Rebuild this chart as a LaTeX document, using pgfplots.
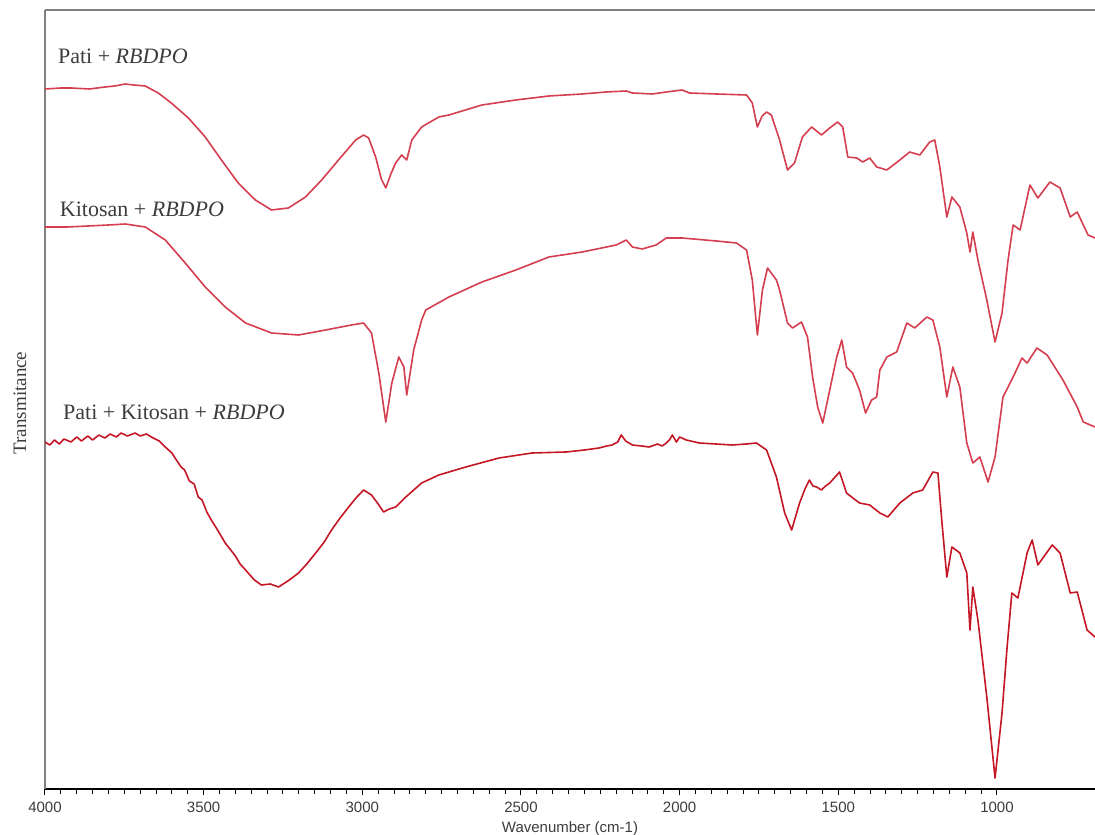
\documentclass[border=0pt]{standalone}
\usepackage{fontspec}
\setmainfont{Liberation Serif}
\newfontfamily\sansf{Liberation Sans}
\usepackage{pgfplots}
\pgfplotsset{compat=1.18}
\definecolor{redA}{RGB}{212,62,78}
\definecolor{redB}{RGB}{196,22,36}
\definecolor{txt}{RGB}{60,60,60}
\begin{document}
\begin{tikzpicture}
\begin{axis}[at={(0,0)}, anchor=south west, scale only axis,
  width=525pt, height=389.5pt,
  x dir=reverse, xmin=691, xmax=4000, ymin=45, ymax=824,
  axis x line*=bottom, axis y line*=left,
  xtick={1000,1500,...,4000}, minor tick num=9, tick align=outside, ytick=\empty,
  major tick length=3.2pt, minor tick length=2.6pt,
  every tick/.style={black, line width=0.5pt},
  x axis line style={black, line width=0.8pt},
  y axis line style={gray, line width=0.6pt},
  /pgf/number format/assume math mode=true,
  /pgf/number format/1000 sep={},
  xticklabel style={font=\sansf\fontsize{7.5}{8}\selectfont, text=txt},
  xlabel={Wavenumber (cm-1)},
  xlabel style={font=\sansf\fontsize{7.5}{8}\selectfont, text=txt, at={(axis description cs:0.5,0)}, anchor=center, yshift=-20pt},
  every axis plot/.append style={line join=round, line width=0.8pt},
]
% Pati + RBDPO
\addplot[redA] coordinates {
(4000,745)(3950,746)(3918,746)(3860,745)(3811,747)(3780,748)(3747,750)(3720,749)(3684,748)(3643,741)(3602,731)(3548,716)(3495,697)(3444,674)(3391,651)(3337,634)(3286,624)(3233,626)(3179,637)(3128,654)(3075,674)(3021,694)(2996,699)(2980,696)(2958,677)(2940,655)(2926,646)(2910,660)(2895,671)(2876,679)(2860,674)(2844,694)(2813,707)(2759,717)(2727,719)(2623,729)(2516,734)(2412,738)(2307,740)(2232,742)(2168,743)(2149,741)(2086,740)(2042,742)(1992,744)(1969,741)(1884,740)(1789,739)(1771,731)(1755,707)(1740,718)(1726,722)(1711,719)(1685,694)(1660,664)(1638,671)(1613,697)(1584,707)(1553,699)(1527,706)(1502,712)(1486,707)(1470,677)(1442,676)(1423,672)(1401,676)(1379,667)(1347,664)(1306,674)(1275,682)(1243,679)(1212,692)(1196,694)(1180,667)(1158,617)(1142,637)(1117,627)(1095,601)(1085,582)(1076,602)(1060,574)(1032,534)(1006,492)(984,521)(965,574)(949,609)(927,604)(896,649)(871,636)(833,652)(801,646)(769,617)(747,622)(713,599)(691,596)
};
% Kitosan + RBDPO
\addplot[redA] coordinates {
(4000,607)(3930,607)(3864,608)(3800,609)(3747,610)(3684,607)(3621,594)(3558,571)(3495,547)(3432,527)(3368,511)(3286,501)(3201,499)(3116,504)(3034,509)(2996,511)(2971,501)(2948,461)(2926,412)(2907,451)(2885,477)(2869,467)(2860,439)(2838,484)(2813,514)(2800,524)(2727,537)(2623,552)(2516,564)(2412,577)(2307,582)(2200,589)(2168,594)(2149,587)(2118,585)(2074,589)(2042,596)(1992,596)(1884,593)(1821,591)(1789,584)(1771,554)(1755,499)(1739,544)(1723,566)(1695,554)(1685,544)(1660,511)(1644,506)(1616,512)(1597,497)(1581,457)(1565,427)(1549,411)(1527,444)(1505,477)(1489,494)(1474,467)(1455,461)(1433,444)(1414,421)(1395,434)(1379,437)(1369,464)(1347,477)(1316,482)(1284,511)(1259,506)(1221,517)(1202,514)(1180,487)(1158,437)(1139,467)(1117,447)(1095,391)(1076,371)(1054,377)(1028,352)(1006,377)(981,437)(949,457)(921,476)(905,471)(874,486)(842,479)(792,454)(747,427)(728,412)(691,407)
};
% Pati + Kitosan + RBDPO
\addplot[redB] coordinates {
(4000,392)(3985,389)(3970,394)(3955,390)(3940,395)(3918,392)(3900,397)(3885,393)(3865,398)(3850,394)(3830,399)(3811,396)(3795,400)(3775,397)(3760,401)(3740,398)(3716,401)(3700,398)(3680,400)(3665,397)(3640,393)(3621,387)(3600,381)(3590,376)(3571,367)(3560,364)(3545,353)(3530,350)(3517,337)(3505,334)(3490,322)(3476,314)(3460,306)(3445,298)(3432,291)(3422,287)(3400,278)(3385,270)(3368,264)(3340,254)(3318,249)(3290,250)(3264,247)(3230,254)(3201,261)(3175,270)(3147,281)(3120,292)(3097,304)(3070,316)(3043,327)(3020,336)(2996,344)(2971,339)(2950,330)(2933,322)(2915,325)(2895,327)(2863,337)(2813,351)(2759,359)(2674,367)(2569,376)(2465,381)(2358,382)(2300,384)(2254,386)(2230,388)(2213,389)(2195,392)(2184,399)(2170,393)(2149,389)(2120,388)(2096,387)(2070,390)(2055,388)(2042,391)(2030,395)(2023,399)(2010,392)(2000,397)(1979,394)(1938,391)(1834,389)(1790,390)(1758,391)(1726,384)(1695,357)(1669,321)(1647,304)(1622,331)(1605,345)(1591,354)(1580,348)(1568,347)(1553,344)(1540,348)(1527,351)(1510,357)(1496,362)(1474,341)(1450,335)(1433,331)(1401,329)(1369,321)(1344,317)(1306,331)(1265,341)(1234,344)(1202,362)(1186,361)(1174,314)(1158,257)(1142,287)(1117,281)(1095,261)(1085,204)(1076,247)(1060,214)(1032,137)(1006,56)(984,121)(968,187)(953,241)(934,236)(905,281)(889,294)(871,269)(826,289)(801,281)(769,241)(747,242)(716,204)(691,197)
};
\node[anchor=base west, font=\fontsize{11}{12}\selectfont, text=txt] at (axis cs:3981,770) {Pati + \textit{RBDPO}};
\node[anchor=base west, font=\fontsize{11}{12}\selectfont, text=txt] at (axis cs:3975,617) {Kitosan + \textit{RBDPO}};
\node[anchor=base west, font=\fontsize{11}{12}\selectfont, text=txt] at (axis cs:3965,414) {Pati + Kitosan + \textit{RBDPO}};
\end{axis}
\draw[gray, line width=0.6pt] (current axis.north west) -- (current axis.north east);
\node[rotate=90, font=\fontsize{9.5}{10}\selectfont, text=txt] at (-12.5pt,193pt) {Transmitance};
\pgfresetboundingbox
\path (-22.5pt,-22.5pt) rectangle (525pt,394.5pt);
\end{tikzpicture}
\end{document}
